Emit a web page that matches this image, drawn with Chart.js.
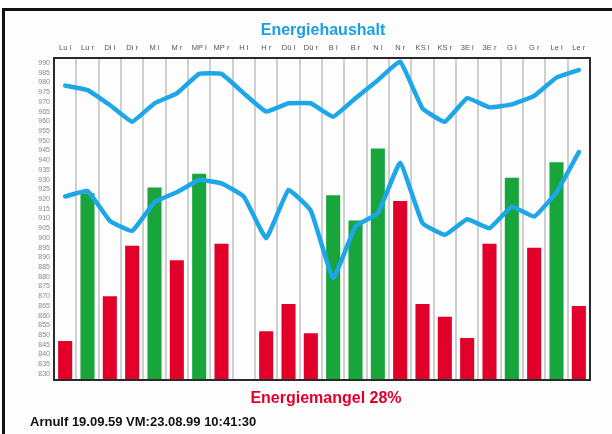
<!DOCTYPE html>
<html>
<head>
<meta charset="utf-8">
<script src="https://cdn.jsdelivr.net/npm/chart.js@4/dist/chart.umd.min.js"></script>
<style>
  html, body { margin: 0; padding: 0; background: #fff; overflow: hidden; }
  #wrap { position: relative; width: 612px; height: 434px; overflow: hidden; background: #fdfdfd; }
  canvas { position: absolute; left: 0; top: 0; }
  .txt { position: absolute; font-family: "Liberation Sans", Arial, sans-serif; font-weight: bold; white-space: nowrap; }
  #titel { left: 0; width: 646px; top: 21px; text-align: center; color: #1a9fe3; font-size: 16px; }
  #mangel { left: 0; width: 652px; top: 389px; text-align: center; color: #e2002b; font-size: 16px; }
  #fuss { left: 30px; top: 414px; color: #111; font-size: 13px; font-family: "Liberation Sans Narrow", "Liberation Sans", sans-serif; }
</style>
</head>
<body>
<div id="wrap">
  <canvas id="grafico" width="612" height="434"></canvas>
  <div class="txt" id="titel">Energiehaushalt</div>
  <div class="txt" id="mangel">Energiemangel 28%</div>
  <div class="txt" id="fuss">Arnulf 19.09.59 VM:23.08.99 10:41:30</div>
</div>
<script>
// Daten
const kategorien = ['Lu l', 'Lu r', 'Di l', 'Di r', 'M l', 'M r', 'MP l', 'MP r', 'H l', 'H r', 'Dü l', 'Dü r',
  'B l', 'B r', 'N l', 'N r', 'KS l', 'KS r', '3E l', '3E r', 'G l', 'G r', 'Le l', 'Le r'];
const balkenGruen = [null, 923, null, null, 926, null, 933, null, null, null, null, null,
  922, 909, 946, null, null, null, null, null, 931, null, 939, null];
const balkenRot = [847, null, 870, 896, null, 888.5, null, 897, null, 852, 866, 851,
  null, null, null, 919, 866, 859.5, 848.5, 897, null, 895, null, 865];
const linieOben = [978.4, 976.1, 968.4, 959.8, 969.3, 974.4, 984.4, 984.4, 974.4, 965, 969.3, 969.3,
  962.4, 971.9, 981.2, 990.7, 966.7, 959.8, 971.9, 967.2, 968.7, 973.1, 982.5, 986.4];
const linieUnten = [921.3, 924.2, 908.8, 903.6, 918.4, 923.5, 929.8, 928.1, 921.3, 899.9, 924.7, 914,
  879.3, 905.9, 912.7, 938.7, 907.6, 901.6, 909.6, 905, 916.1, 911, 923.5, 944.2];
const yTicks = [830, 835, 840, 845, 850, 855, 860, 865, 870, 875, 880, 885, 890, 895, 900, 905, 910,
  915, 920, 925, 930, 935, 940, 945, 950, 955, 960, 965, 970, 975, 980, 985, 990];

// Außenrahmen (oben und links) und Rahmen um die Zeichenfläche
const rahmen = {
  id: 'rahmen',
  beforeDraw(chart) {
    const c = chart.ctx;
    c.save();
    c.fillStyle = '#111';
    c.fillRect(2, 8, chart.width - 2, 3);
    c.fillRect(2, 8, 3, chart.height - 8);
    c.restore();
  },
  afterDatasetsDraw(chart) {
    const a = chart.chartArea;
    const c = chart.ctx;
    c.save();
    c.strokeStyle = '#2a2a2a';
    c.lineWidth = 2;
    c.strokeRect(a.left, a.top, a.right - a.left, a.bottom - a.top);
    c.restore();
  }
};

const ctx = document.getElementById('grafico');
new Chart(ctx, {
  type: 'bar',
  data: {
    labels: kategorien,
    datasets: [
      { type: 'line', data: linieOben, borderColor: '#1ea7e8', borderWidth: 4.5, pointRadius: 0,
        tension: 0.1, borderJoinStyle: 'round', borderCapStyle: 'round', order: 0 },
      { type: 'line', data: linieUnten, borderColor: '#1ea7e8', borderWidth: 4.5, pointRadius: 0,
        tension: 0.1, borderJoinStyle: 'round', borderCapStyle: 'round', order: 0 },
      { data: balkenGruen, backgroundColor: '#17a53c', grouped: false, order: 1,
        barPercentage: 0.63, categoryPercentage: 1 },
      { data: balkenRot, backgroundColor: '#e2002b', grouped: false, order: 1,
        barPercentage: 0.63, categoryPercentage: 1 }
    ]
  },
  options: {
    responsive: false,
    animation: false,
    layout: { padding: { left: 0, right: 22, top: 40, bottom: 54 } },
    plugins: {
      legend: { display: false },
      tooltip: { enabled: false },
      title: { display: false }
    },
    scales: {
      x: {
        position: 'top',
        offset: true,
        grid: { display: true, offset: true, color: '#cfcfcf', lineWidth: 2, drawTicks: false },
        border: { display: false },
        ticks: { color: '#555', padding: 6, maxRotation: 0, autoSkip: false,
                 font: { family: 'Liberation Sans', size: 7.5 } },
        afterFit(scale) { scale.height = 18; }
      },
      y: {
        min: 826.9,
        max: 992.6,
        grid: { display: false, drawTicks: false },
        border: { display: false },
        afterBuildTicks(scale) { scale.ticks = yTicks.map(v => ({ value: v })); },
        ticks: { color: '#8a8a8a', padding: 4, autoSkip: false,
                 font: { family: 'Liberation Sans', size: 7 } },
        afterFit(scale) { scale.width = 54; }
      }
    }
  },
  plugins: [rahmen]
});
</script>
</body>
</html>
